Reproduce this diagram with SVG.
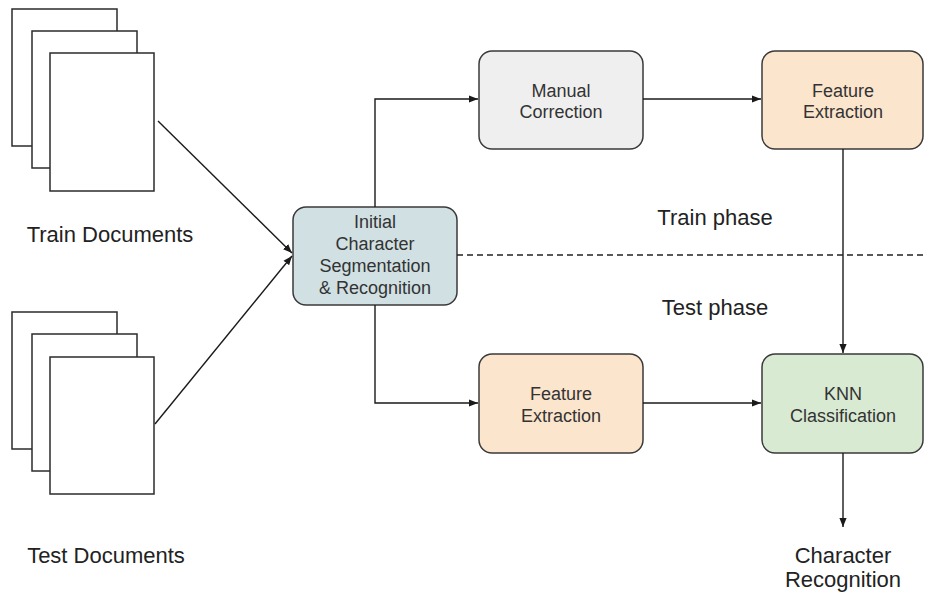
<svg xmlns="http://www.w3.org/2000/svg" width="925" height="597" viewBox="0 0 925 597">
<defs>
<marker id="ah" viewBox="0 0 10 10" refX="10" refY="5" markerWidth="9" markerHeight="9" markerUnits="userSpaceOnUse" orient="auto">
<path d="M0,1 L10,5 L0,9 Z" fill="#1a1a1a"/>
</marker>
<style>
.page{fill:#fff;stroke:#2b2b2b;stroke-width:1.5}
.box{stroke:#3a3a3a;stroke-width:1.5}
.t{font-family:"Liberation Sans",Arial,sans-serif;font-size:18px;fill:#333;text-anchor:middle}
.lbl{font-family:"Liberation Sans",Arial,sans-serif;font-size:22px;fill:#222;text-anchor:middle}
.c{fill:none;stroke:#1a1a1a;stroke-width:1.4}
</style>
</defs>
<rect width="925" height="597" fill="#fff"/>
<g id="train-docs">
<rect class="page" x="12" y="9" width="105" height="137"/>
<rect class="page" x="32" y="31" width="105" height="137"/>
<rect class="page" x="50" y="53" width="104" height="138"/>
<text class="lbl" x="110" y="242">Train Documents</text>
</g>
<g id="test-docs">
<rect class="page" x="12" y="312" width="105" height="137"/>
<rect class="page" x="32" y="334" width="105" height="137"/>
<rect class="page" x="50" y="357" width="104" height="137"/>
<text class="lbl" x="106" y="563">Test Documents</text>
</g>
<g id="initial">
<rect class="box" x="293" y="207" width="164" height="98" rx="13" fill="#d0e0e3"/>
<text class="t" x="375" y="228">Initial</text>
<text class="t" x="375" y="250">Character</text>
<text class="t" x="375" y="272">Segmentation</text>
<text class="t" x="375" y="294">&amp; Recognition</text>
</g>
<g id="manual">
<rect class="box" x="479" y="51" width="164" height="98" rx="13" fill="#efefef"/>
<text class="t" x="561" y="97">Manual</text>
<text class="t" x="561" y="118">Correction</text>
</g>
<g id="feat-train">
<rect class="box" x="762" y="51" width="161" height="98" rx="13" fill="#fce5cd"/>
<text class="t" x="843" y="97">Feature</text>
<text class="t" x="843" y="118">Extraction</text>
</g>
<g id="feat-test">
<rect class="box" x="479" y="354" width="164" height="99" rx="13" fill="#fce5cd"/>
<text class="t" x="561" y="400">Feature</text>
<text class="t" x="561" y="422">Extraction</text>
</g>
<g id="knn">
<rect class="box" x="762" y="354" width="161" height="99" rx="13" fill="#d9ead3"/>
<text class="t" x="843" y="400">KNN</text>
<text class="t" x="843" y="422">Classification</text>
</g>
<g id="phase-labels">
<text class="lbl" x="715" y="225">Train phase</text>
<text class="lbl" x="715" y="315">Test phase</text>
</g>
<g id="result">
<text class="lbl" x="843" y="563">Character</text>
<text class="lbl" x="843" y="587">Recognition</text>
</g>
<g id="connectors">
<line class="c" x1="158" y1="121" x2="292" y2="253" marker-end="url(#ah)"/>
<line class="c" x1="155" y1="424" x2="292" y2="256" marker-end="url(#ah)"/>
<polyline class="c" points="375,207 375,99 478,99" marker-end="url(#ah)"/>
<polyline class="c" points="375,305 375,403 478,403" marker-end="url(#ah)"/>
<line class="c" x1="643" y1="99" x2="761" y2="99" marker-end="url(#ah)"/>
<line class="c" x1="643" y1="403" x2="761" y2="403" marker-end="url(#ah)"/>
<line class="c" x1="843" y1="149" x2="843" y2="353" marker-end="url(#ah)"/>
<line class="c" x1="843" y1="453" x2="843" y2="527" marker-end="url(#ah)"/>
<line x1="457" y1="255" x2="925" y2="255" stroke="#222" stroke-width="1.4" stroke-dasharray="6,4"/>
</g>
</svg>
